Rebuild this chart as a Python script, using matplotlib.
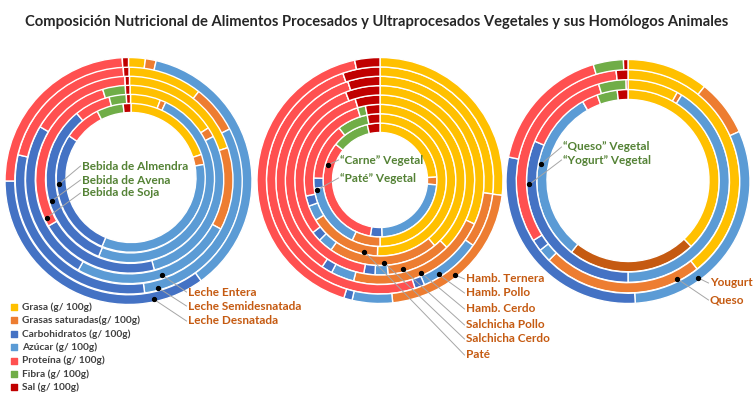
import numpy as np
import matplotlib.pyplot as plt

W, H = 754, 398

nutrientes = ['Grasa (g/ 100g)', 'Grasas saturadas(g/ 100g)', 'Carbohidratos (g/ 100g)',
              'Azúcar (g/ 100g)', 'Proteína (g/ 100g)', 'Fibra (g/ 100g)', 'Sal (g/ 100g)']

# share of each ring (%), clockwise from 12 o'clock:
# grasa, saturadas, carbohidratos, azucar, proteina, fibra, sal
bebida_almendra = [20.0, 2.2, 34.2, 28.1, 8.1, 5.8, 1.7]
bebida_avena = [5.8, 1.1, 49.2, 32.8, 6.9, 3.3, 0.8]
bebida_soja = [15.8, 1.7, 28.3, 20.8, 28.6, 3.9, 0.8]
leche_entera = [20.0, 12.9, 25.3, 25.3, 15.8, 0.0, 0.7]
leche_semi = [10.6, 6.9, 30.3, 30.8, 20.6, 0.0, 0.8]
leche_desnatada = [2.2, 1.4, 36.4, 35.0, 24.2, 0.0, 0.8]

carne_vegetal = [24.2, 2.2, 23.1, 3.3, 33.1, 10.6, 3.6]
pate_vegetal = [50.0, 6.9, 16.1, 2.5, 13.9, 7.5, 3.1]
pate = [50.6, 15.6, 3.3, 2.2, 23.6, 1.7, 3.1]
salchicha_cerdo = [38.9, 20.8, 2.8, 1.9, 30.8, 0.0, 4.7]
salchicha_pollo = [37.5, 11.1, 2.2, 1.9, 41.3, 0.0, 5.9]
hamb_cerdo = [31.9, 22.2, 3.6, 1.7, 35.6, 0.0, 5.0]
hamb_pollo = [26.9, 7.8, 8.9, 1.4, 49.7, 0.0, 5.3]
hamb_ternera = [26.9, 21.4, 5.3, 1.1, 41.9, 0.0, 3.3]

queso_vegetal = [37.9, 22.8, 31.1, 0.0, 2.8, 3.6, 1.9]
yogurt_vegetal = [8.1, 0.8, 41.1, 31.4, 13.9, 4.4, 0.3]
queso = [39.4, 23.1, 1.9, 1.7, 32.2, 0.0, 1.7]
yogurt = [10.8, 7.5, 30.8, 29.2, 17.2, 4.0, 0.6]

# ring colours (as drawn) and legend colours (as shown in the legend)
ring_colors = ['#FFC000', '#ED7D31', '#5B9BD5', '#4472C4', '#FF5050', '#70AD47', '#C00000']
legend_colors = ['#FFC000', '#ED7D31', '#4472C4', '#5B9BD5', '#FF5050', '#70AD47', '#C00000']
DARK_SAT = '#C55A11'   # the "Queso" vegetal ring uses a darker orange
VEG = '#548235'
ANI = '#C55A11'

# chart layout: centre of the inner ring (px from top-left), drift of the
# centre out to the last ring, hole radius, outer radius
charts = [
    dict(center=(131, 177.5), shift=(-2.5, 3.5), r_in=65, r_out=123.5,
         rings=[bebida_almendra, bebida_avena, bebida_soja, leche_entera, leche_semi, leche_desnatada]),
    dict(center=(380, 180), shift=(0, 0.5), r_in=47.5, r_out=123,
         rings=[carne_vegetal, pate_vegetal, pate, salchicha_cerdo, salchicha_pollo,
                hamb_cerdo, hamb_pollo, hamb_ternera]),
    dict(center=(628, 180.5), shift=(0, 1), r_in=81, r_out=122,
         rings=[queso_vegetal, yogurt_vegetal, queso, yogurt], dark=[0]),
]

# labels: (chart, ring, dot angle cw from top, text x, text y, text, colour)
labels = [
    (0, 0, 265, 82, 166, 'Bebida de Almendra', VEG),
    (0, 1, 254, 82, 180, 'Bebida de Avena', VEG),
    (0, 2, 245, 82, 193, 'Bebida de Soja', VEG),
    (0, 3, 161, 188, 292, 'Leche Entera', ANI),
    (0, 4, 165, 188, 306, 'Leche Semidesnatada', ANI),
    (0, 5, 168, 188, 321, 'Leche Desnatada', ANI),
    (1, 0, 286, 340, 160, '\u201cCarne\u201d Vegetal', VEG),
    (1, 1, 261, 340, 178, '\u201cPaté\u201d Vegetal', VEG),
    (1, 7, 141.6, 466, 279, 'Hamb. Ternera', ANI),
    (1, 6, 148, 466, 293, 'Hamb. Pollo', ANI),
    (1, 5, 156, 466, 309, 'Hamb. Cerdo', ANI),
    (1, 4, 165.5, 466, 325, 'Salchicha Pollo', ANI),
    (1, 3, 177, 466, 339, 'Salchicha Cerdo', ANI),
    (1, 2, 192.4, 466, 355, 'Paté', ANI),
    (2, 0, 280.7, 563, 147, '\u201cQueso\u201d Vegetal', VEG),
    (2, 1, 268, 563, 160, '\u201cYogurt\u201d Vegetal', VEG),
    (2, 3, 144, 710, 283, 'Yougurt', ANI),
    (2, 2, 153.4, 710, 300, 'Queso', ANI),
]

plt.rcParams['font.family'] = ['Lato', 'DejaVu Sans']

fig = plt.figure(figsize=(W / 100, H / 100), dpi=100)
ax = fig.add_axes([0, 0, 1, 1])


def ring_geom(ch, i):
    n = len(ch['rings'])
    w = (ch['r_out'] - ch['r_in']) / n
    f = i / (n - 1)
    cx = ch['center'][0] + ch['shift'][0] * f
    cy = ch['center'][1] + ch['shift'][1] * f
    return cx, H - cy, ch['r_in'] + (i + 1) * w, w


for ch in charts:
    for i, vals in enumerate(ch['rings']):
        cx, cy, r, w = ring_geom(ch, i)
        cols = list(ring_colors)
        if i in ch.get('dark', []):
            cols[1] = DARK_SAT
        ax.pie(vals, radius=r, center=(cx, cy),
               colors=cols, startangle=90, counterclock=False,
               wedgeprops=dict(width=w, edgecolor='white', linewidth=1.0))

for ci, ri, ang, tx, ty, txt, col in labels:
    cx, cy, r, w = ring_geom(charts[ci], ri)
    r = r - 0.28 * w
    a = np.radians(ang)
    dx, dy = cx + r * np.sin(a), cy + r * np.cos(a)
    ax.plot([dx, tx - 1.5], [dy, H - ty], color='#A6A6A6', lw=0.7, zorder=5)
    ax.plot(dx, dy, 'o', color='black', ms=2.8, zorder=6)
    ax.text(tx, H - ty, txt, color=col, fontsize=8.5, fontweight='bold',
            ha='left', va='center', zorder=7)

# legend
for k, (name, col) in enumerate(zip(nutrientes, legend_colors)):
    y = H - (307 + k * 13.4)
    ax.scatter([14], [y], marker='s', s=16, color=col, zorder=5)
    ax.text(22, y, name, color='#404040', fontsize=7.3, fontweight='bold',
            ha='left', va='center')

ax.text(W / 2, H - 22, 'Composición Nutricional de Alimentos Procesados y Ultraprocesados '
        'Vegetales y sus Homólogos Animales', ha='center', va='center',
        fontsize=10.65, fontweight='bold', color='#262626')

ax.set_xlim(0, W)
ax.set_ylim(0, H)
ax.set_aspect('equal')
ax.axis('off')
fig.savefig('out.png', dpi=100, facecolor='white')
